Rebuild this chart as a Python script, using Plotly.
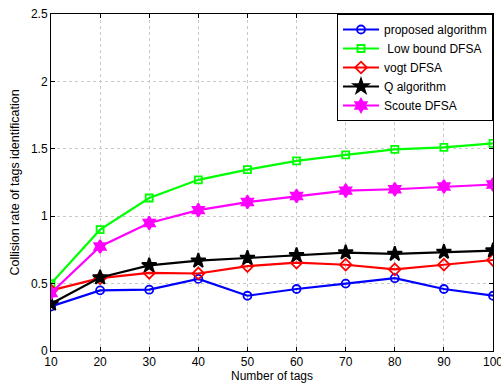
import plotly.graph_objects as go

# Number of tags on the x axis
tags = [10, 20, 30, 40, 50, 60, 70, 80, 90, 100]

# Collision rate per algorithm
proposed = [0.33, 0.45, 0.455, 0.535, 0.41, 0.46, 0.50, 0.54, 0.46, 0.41]
low_bound = [0.50, 0.90, 1.135, 1.27, 1.345, 1.41, 1.455, 1.495, 1.51, 1.54]
vogt = [0.45, 0.54, 0.58, 0.575, 0.63, 0.655, 0.64, 0.605, 0.64, 0.675]
q_alg = [0.35, 0.545, 0.635, 0.67, 0.69, 0.71, 0.73, 0.72, 0.735, 0.745]
scoute = [0.43, 0.775, 0.95, 1.045, 1.105, 1.15, 1.19, 1.20, 1.22, 1.235]

y_ticks = [0, 0.5, 1, 1.5, 2, 2.5]
y_tick_text = ["0", "0.5", "1", "1.5", "2", "2.5"]

FONT = "Liberation Sans, Arial, Helvetica, sans-serif"

series = [
    ("proposed algorithm", proposed, "#0000ff", "circle-open", 8),
    (" Low bound DFSA", low_bound, "#00ff00", "square-open", 7),
    ("vogt DFSA", vogt, "#ff0000", "diamond-open", 9),
    ("Q algorithm", q_alg, "#000000", "star", 11),
    ("Scoute DFSA", scoute, "#ff00ff", "hexagram", 10),
]

fig = go.Figure()
for name, vals, color, symbol, size in series:
    fig.add_trace(go.Scatter(
        x=tags, y=vals, name=name, mode="lines+markers",
        line=dict(color=color, width=2.2),
        marker=dict(symbol=symbol, size=size, color=color,
                    line=dict(color=color, width=1.8)),
    ))

axis_common = dict(
    showline=True, linecolor="black", linewidth=1, mirror="ticks",
    ticks="inside", ticklen=4, tickcolor="black",
    showgrid=True, gridcolor="#c8c8c8", griddash="dot", gridwidth=1,
    zeroline=False, automargin=False,
    tickfont=dict(family=FONT, size=12, color="black"),
    ticklabeloverflow="allow",
)

fig.update_xaxes(
    range=[10, 100], tickvals=tags,
    title=dict(text="Number of tags", font=dict(family=FONT, size=12, color="black"), standoff=2),
    **axis_common,
)
fig.update_yaxes(
    range=[0, 2.5], tickvals=y_ticks, ticktext=y_tick_text,
    title=dict(text="Collision rate of tags identification",
               font=dict(family=FONT, size=12.5, color="black"), standoff=8),
    **axis_common,
)

fig.update_layout(
    width=501, height=385,
    margin=dict(l=51, r=8, t=14, b=34, autoexpand=False),
    paper_bgcolor="white", plot_bgcolor="white",
    font=dict(family=FONT, size=12, color="black"),
    legend=dict(
        x=1, y=1, xanchor="right", yanchor="top",
        bgcolor="white", bordercolor="black", borderwidth=1,
        font=dict(family=FONT, size=12, color="black"),
        tracegroupgap=0, itemwidth=36,
    ),
)

fig.write_html("out.html")
